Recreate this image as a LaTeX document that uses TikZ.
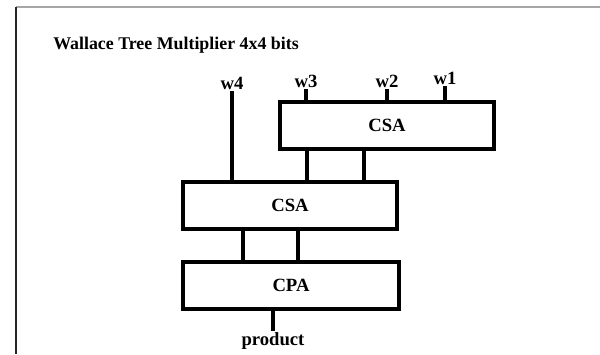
\documentclass[tikz,border=0pt]{standalone}
\usepackage{fontspec}
\setmainfont{Liberation Serif}
\usetikzlibrary{calc, positioning}

\begin{document}
\begin{tikzpicture}[
  x=0.75pt, y=-0.75pt,
  adder/.style={draw=black, line width=2.3pt, minimum width=160.5pt,
    minimum height=35.25pt, inner sep=0pt, font=\fontsize{14}{16}\selectfont\bfseries},
  wire/.style={line width=2.3pt},
  sig/.style={font=\fontsize{14}{16}\selectfont\bfseries, inner sep=1pt},
]
  \useasboundingbox (0,0) rectangle (600,354);
  % frame
  \draw[gray!70, line width=0.8pt] (16,7) -- (600,7);
  \draw[black!85, line width=1.4pt] (16,7) -- (16,354);
  \node[anchor=west, inner sep=0pt, font=\fontsize{13.4}{16}\selectfont\bfseries] (title) at (53,45) {Wallace Tree Multiplier 4x4 bits};
  % adders
  \node[adder] (csa1) at (387,125.5) {CSA};
  \node[adder] (csa2) at (290,205.5) {CSA};
  \node[adder, minimum width=162pt] (cpa) at (291,285.5) {CPA};
  % inputs
  \node[sig, anchor=south] (in4) at (232,91) {w4};
  \node[sig, anchor=south] (in3) at (306,89) {w3};
  \node[sig, anchor=south] (in2) at (387,89) {w2};
  \node[sig, anchor=south] (in1) at (445,86) {w1};
  \draw[wire] (in4.south) -- (in4.south |- csa2.north);
  \draw[wire] (in3.south) -- (in3.south |- csa1.north);
  \draw[wire] (in2.south) -- (in2.south |- csa1.north);
  \draw[wire] (in1.south) -- (in1.south |- csa1.north);
  % sums and carries
  \draw[wire] ([xshift=-60pt]csa1.south) -- ([xshift=-60pt]csa1.south |- csa2.north);
  \draw[wire] ([xshift=-17.25pt]csa1.south) -- ([xshift=-17.25pt]csa1.south |- csa2.north);
  \draw[wire] ([xshift=-35.25pt]csa2.south) -- ([xshift=-35.25pt]csa2.south |- cpa.north);
  \draw[wire] ([xshift=6pt]csa2.south) -- ([xshift=6pt]csa2.south |- cpa.north);
  % output
  \node[sig, anchor=north] (product) at (273,331) {product};
  \draw[wire] (product.north |- cpa.south) -- (product.north);
\end{tikzpicture}
\end{document}
